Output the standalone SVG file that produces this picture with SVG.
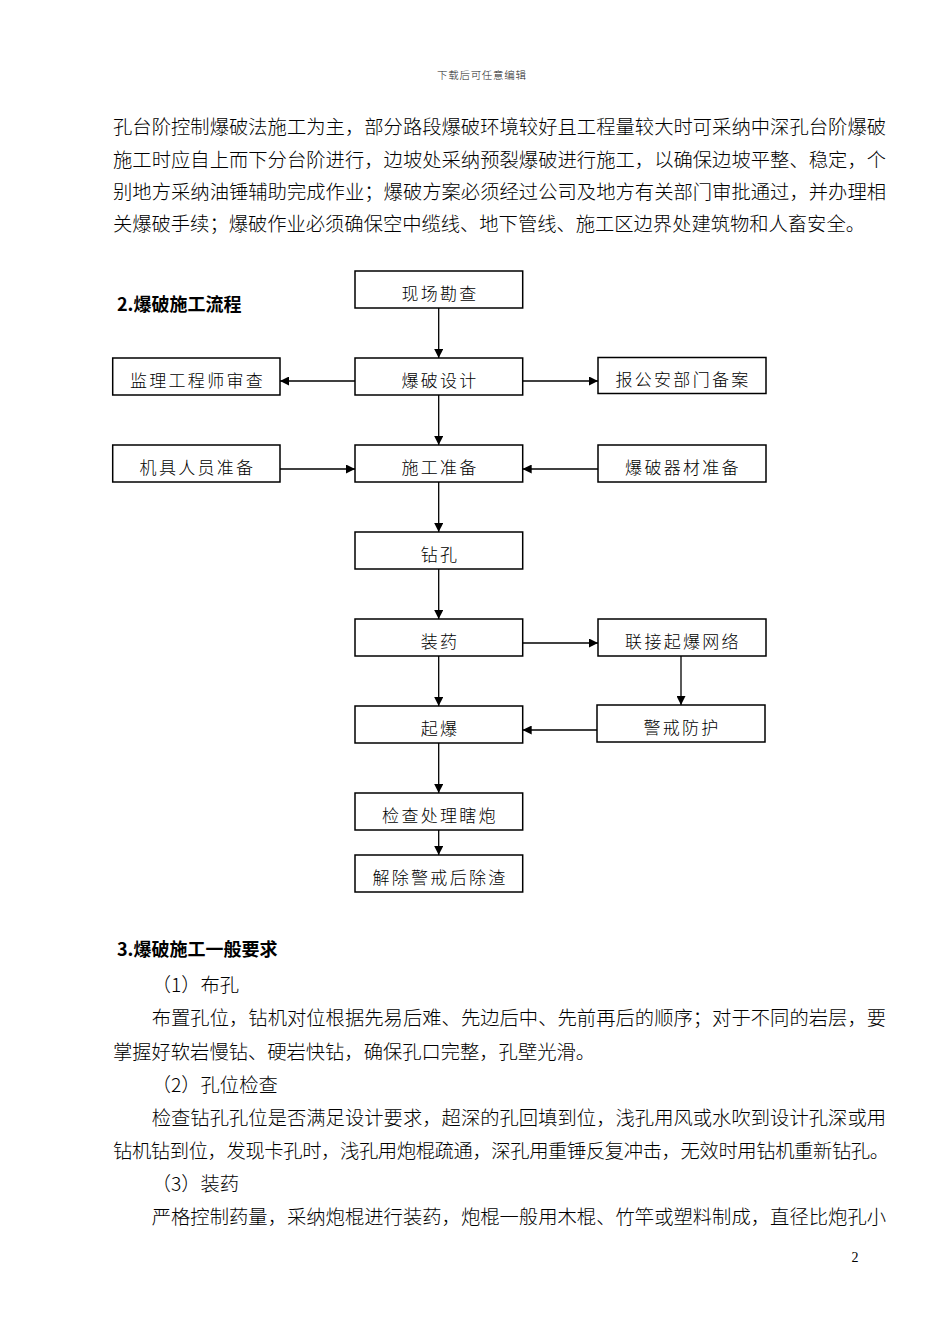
<svg xmlns="http://www.w3.org/2000/svg" width="950" height="1344" viewBox="0 0 950 1344">
<defs>
<style>
.body{font-family:"Noto Sans CJK SC","Noto Sans",sans-serif;font-size:19.3px;font-weight:300;fill:#000}
.hd{font-family:"Noto Sans CJK SC","Noto Sans",sans-serif;font-size:18px;font-weight:bold;fill:#000}
.box{fill:#fff;stroke:#000;stroke-width:1.5}
.lbl{font-family:"Noto Sans CJK SC","Noto Sans",sans-serif;font-size:17px;font-weight:300;letter-spacing:2.3px;fill:#000;text-anchor:middle}
.edge{fill:none;stroke:#000;stroke-width:1.3}
</style>
<marker id="ah" viewBox="0 0 10 10" markerUnits="userSpaceOnUse" markerWidth="9" markerHeight="9" refX="10" refY="5" orient="auto">
<path d="M0,0 L10,5 L0,10 z" fill="#000"/>
</marker>
</defs>
<rect width="950" height="1344" fill="#fff"/>

<text x="437" y="79" font-family="Noto Sans CJK SC, sans-serif" font-size="10.5" font-weight="300" fill="#222" textLength="89" lengthAdjust="spacing">下载后可任意编辑</text>

<g id="para1">
<text class="body" x="113" y="134" textLength="773" lengthAdjust="spacing">孔台阶控制爆破法施工为主，部分路段爆破环境较好且工程量较大时可采纳中深孔台阶爆破</text>
<text class="body" x="113" y="166.5" textLength="773" lengthAdjust="spacing">施工时应自上而下分台阶进行，边坡处采纳预裂爆破进行施工，以确保边坡平整、稳定，个</text>
<text class="body" x="113" y="199" textLength="773" lengthAdjust="spacing">别地方采纳油锤辅助完成作业；爆破方案必须经过公司及地方有关部门审批通过，并办理相</text>
<text class="body" x="113" y="231">关爆破手续；爆破作业必须确保空中缆线、地下管线、施工区边界处建筑物和人畜安全。</text>
</g>

<text class="hd" x="117" y="311">2.爆破施工流程</text>

<g id="connectors">
<path class="edge" d="M438.7,308 V358" marker-end="url(#ah)"/>
<path class="edge" d="M355,381 H280" marker-end="url(#ah)"/>
<path class="edge" d="M522.7,381 H598" marker-end="url(#ah)"/>
<path class="edge" d="M438.7,395 V445" marker-end="url(#ah)"/>
<path class="edge" d="M280,469 H355" marker-end="url(#ah)"/>
<path class="edge" d="M598,469 H522.7" marker-end="url(#ah)"/>
<path class="edge" d="M438.7,482 V532" marker-end="url(#ah)"/>
<path class="edge" d="M438.7,569 V619" marker-end="url(#ah)"/>
<path class="edge" d="M522.7,643 H598" marker-end="url(#ah)"/>
<path class="edge" d="M681,656 V705" marker-end="url(#ah)"/>
<path class="edge" d="M597,730 H522.7" marker-end="url(#ah)"/>
<path class="edge" d="M438.7,656 V706" marker-end="url(#ah)"/>
<path class="edge" d="M438.7,743 V793" marker-end="url(#ah)"/>
<path class="edge" d="M438.7,830 V855" marker-end="url(#ah)"/>
</g>

<g id="n-xianchang"><rect class="box" x="355" y="271" width="167.7" height="37"/><text class="lbl" x="440" y="300">现场勘查</text></g>
<g id="n-sheji"><rect class="box" x="355" y="358" width="167.7" height="37"/><text class="lbl" x="440" y="387">爆破设计</text></g>
<g id="n-jianli"><rect class="box" x="112.7" y="358" width="167.3" height="37"/><text class="lbl" x="197.5" y="387">监理工程师审查</text></g>
<g id="n-gongan"><rect class="box" x="598" y="357.5" width="168" height="36"/><text class="lbl" x="683" y="386">报公安部门备案</text></g>
<g id="n-jiju"><rect class="box" x="112.7" y="445" width="167.3" height="37"/><text class="lbl" x="197.5" y="474">机具人员准备</text></g>
<g id="n-zhunbei"><rect class="box" x="355" y="445" width="167.7" height="37"/><text class="lbl" x="440" y="474">施工准备</text></g>
<g id="n-qicai"><rect class="box" x="598" y="445" width="168" height="37"/><text class="lbl" x="683" y="474">爆破器材准备</text></g>
<g id="n-zuankong"><rect class="box" x="355" y="532" width="167.7" height="37"/><text class="lbl" x="440" y="561">钻孔</text></g>
<g id="n-zhuangyao"><rect class="box" x="355" y="619" width="167.7" height="37"/><text class="lbl" x="440" y="648">装药</text></g>
<g id="n-lianjie"><rect class="box" x="598" y="619" width="168" height="37"/><text class="lbl" x="683" y="648">联接起爆网络</text></g>
<g id="n-qibao"><rect class="box" x="355" y="706" width="167.7" height="37"/><text class="lbl" x="440" y="735">起爆</text></g>
<g id="n-jingjie"><rect class="box" x="597" y="705" width="168" height="37"/><text class="lbl" x="682" y="734">警戒防护</text></g>
<g id="n-jiancha"><rect class="box" x="355" y="793" width="167.7" height="37"/><text class="lbl" x="440" y="822">检查处理瞎炮</text></g>
<g id="n-jiechu"><rect class="box" x="355" y="855" width="167.7" height="37"/><text class="lbl" x="440" y="884">解除警戒后除渣</text></g>

<text class="hd" x="117" y="956">3.爆破施工一般要求</text>

<g id="para3">
<text class="body" x="151.7" y="992">（1）布孔</text>
<text class="body" x="151.7" y="1025" textLength="734.3" lengthAdjust="spacing">布置孔位，钻机对位根据先易后难、先边后中、先前再后的顺序；对于不同的岩层，要</text>
<text class="body" x="113" y="1058.5">掌握好软岩慢钻、硬岩快钻，确保孔口完整，孔壁光滑。</text>
<text class="body" x="151.7" y="1092">（2）孔位检查</text>
<text class="body" x="151.7" y="1124.5" textLength="734.3" lengthAdjust="spacing">检查钻孔孔位是否满足设计要求，超深的孔回填到位，浅孔用风或水吹到设计孔深或用</text>
<text class="body" x="113" y="1158" textLength="776" lengthAdjust="spacing">钻机钻到位，发现卡孔时，浅孔用炮棍疏通，深孔用重锤反复冲击，无效时用钻机重新钻孔。</text>
<text class="body" x="151.7" y="1191">（3）装药</text>
<text class="body" x="151.7" y="1224" textLength="734.3" lengthAdjust="spacing">严格控制药量，采纳炮棍进行装药，炮棍一般用木棍、竹竿或塑料制成，直径比炮孔小</text>
</g>

<text x="855" y="1262" font-family="Liberation Serif, serif" font-size="14" text-anchor="middle" fill="#000">2</text>
</svg>
